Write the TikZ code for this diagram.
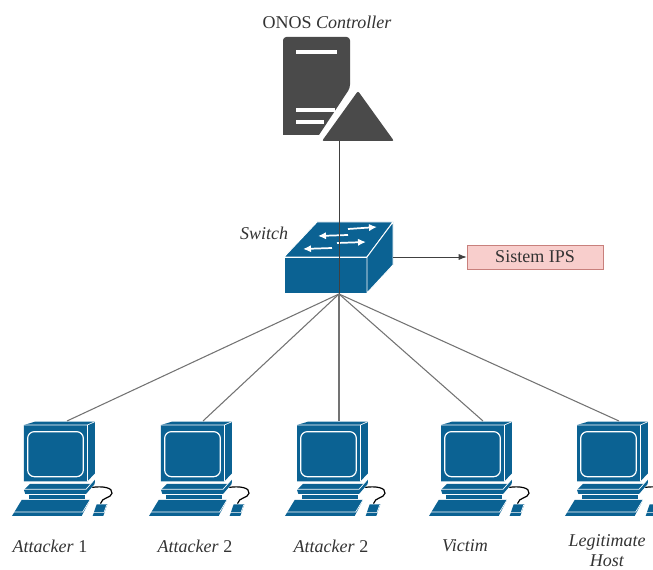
\documentclass[tikz,border=0pt]{standalone}
\usepackage{fontspec}
\setmainfont{Liberation Serif}
\usetikzlibrary{arrows.meta}
\definecolor{ciscoblue}{HTML}{0B6293}
\definecolor{servergray}{HTML}{4A4A4A}
\definecolor{ipsfill}{HTML}{F8CECC}
\definecolor{ipsline}{HTML}{C8807C}
\tikzset{
  blueface/.style={fill=ciscoblue,draw=white,line width=0.7pt,line join=round},
  link/.style={draw=black!55,line width=0.8pt},
  blackline/.style={draw=black!75,line width=0.6pt},
  swarrow/.style={white,line width=1.3pt,-{Latex[length=6pt,width=5.5pt]}},
  lbl/.style={font=\fontsize{13.5}{16}\selectfont,text=black!80,inner sep=0pt,align=center},
  pics/computer/.style={code={
    \begin{scope}[x=0.3333pt,y=-0.3333pt]
      \draw[black,line width=0.9pt,line cap=round] (278,232) .. controls (305,228) and (340,232) .. (336,250) .. controls (333,265) and (305,262) .. (302,280);
      \fill[ciscoblue] (72,45) -- (105,35) -- (285,35) -- (285,190) -- (262,214) -- (72,214) -- cycle;
      \draw[white,line width=0.5pt] (72,45) -- (262,45) -- (285,35);
      \draw[white,line width=0.5pt] (262,45) -- (262,214);
      \draw[white,line width=0.9pt,rounded corners=5pt] (83,65) rectangle (250,200);
      \fill[ciscoblue] (90,222) -- (272,222) -- (285,208) -- (284,222) -- (258,252) -- (76,252) -- (72,240) -- cycle;
      \draw[white,line width=0.5pt] (72,238) -- (258,238) -- (284,208);
      \fill[ciscoblue] (88,254) -- (255,254) -- (255,266) -- (88,266) -- cycle;
      \fill[ciscoblue] (65,270) -- (270,270) -- (245,318) -- (36,318) -- cycle;
      \draw[white,line width=0.5pt] (36,306) -- (248,306) -- (270,270);
      \fill[ciscoblue] (290,283) -- (322,283) -- (310,318) -- (278,318) -- cycle;
      \draw[white,line width=0.5pt] (278,308) -- (312,308) -- (320,285);
    \end{scope}
  }}
}
\begin{document}
\begin{tikzpicture}[x=0.75pt,y=-0.75pt]
\useasboundingbox (0,0) rectangle (653,570);
% anchor points
\coordinate (ctrlbase) at (339,141);
\coordinate (hub) at (339,294);
\coordinate (swright) at (393,257);
\coordinate (top1) at (67,421);
\coordinate (top2) at (203,421);
\coordinate (top3) at (339,421);
\coordinate (top4) at (483,421);
\coordinate (top5) at (619,421);
% computers
\pic[scale=0.75] at (0,410) {computer};
\pic[scale=0.75] at (137,410) {computer};
\pic[scale=0.75] at (273,410) {computer};
\pic[scale=0.75] at (417,410) {computer};
\pic[scale=0.75] at (553,410) {computer};
% server
\fill[servergray,rounded corners=2.5pt] (283,37) -- (350,37) -- (350,88) [sharp corners] -- (319,135) -- (283,135) [rounded corners=2.5pt] -- cycle;
\fill[white] (296,50) rectangle (337,54);
\fill[white] (296,108) rectangle (335,112);
\fill[white] (296,120) rectangle (324,124);
\fill[servergray,rounded corners=1.5pt] (358,91) -- (394,141) -- (322,141) -- cycle;
% switch
\fill[blueface] (284,257) -- (317,222) -- (393,222) -- (367,257) -- cycle;
\fill[blueface] (284,257) rectangle (367,293);
\fill[blueface] (367,257) -- (393,222) -- (393,265) -- (367,293) -- cycle;
\draw[swarrow] (348,229) -- (377,227);
\draw[swarrow] (348,235) -- (318,236);
\draw[swarrow] (337,243) -- (366,242);
\draw[swarrow] (332,248) -- (303,249);
% IPS box
\node[draw=ipsline,fill=ipsfill,minimum width=102pt,minimum height=18pt,inner sep=0pt,
      lbl] (ips) at (535,257) {Sistem IPS};
% connectors
\draw[blackline] (ctrlbase) -- (hub);
\draw[blackline,-{Latex[length=6pt,width=4.5pt]}] (swright) -- (ips.west);
\foreach \t in {top1,top2,top3,top4,top5}{\draw[link] (hub) -- (\t);}
% labels
\node[lbl] (lctrl) at (327,22) {ONOS \textit{Controller}};
\node[lbl] (lsw) at (264,233) {\textit{Switch}};
\node[lbl] (l1) at (50,546) {\textit{Attacker} 1};
\node[lbl] (l2) at (195,546) {\textit{Attacker} 2};
\node[lbl] (l3) at (331,546) {\textit{Attacker} 2};
\node[lbl] (l4) at (465,546) {\textit{Victim}};
\node[lbl,font=\fontsize{13.5}{15}\selectfont] (l5) at (607,551) {\textit{Legitimate}\\\textit{Host}};
\end{tikzpicture}
\end{document}
